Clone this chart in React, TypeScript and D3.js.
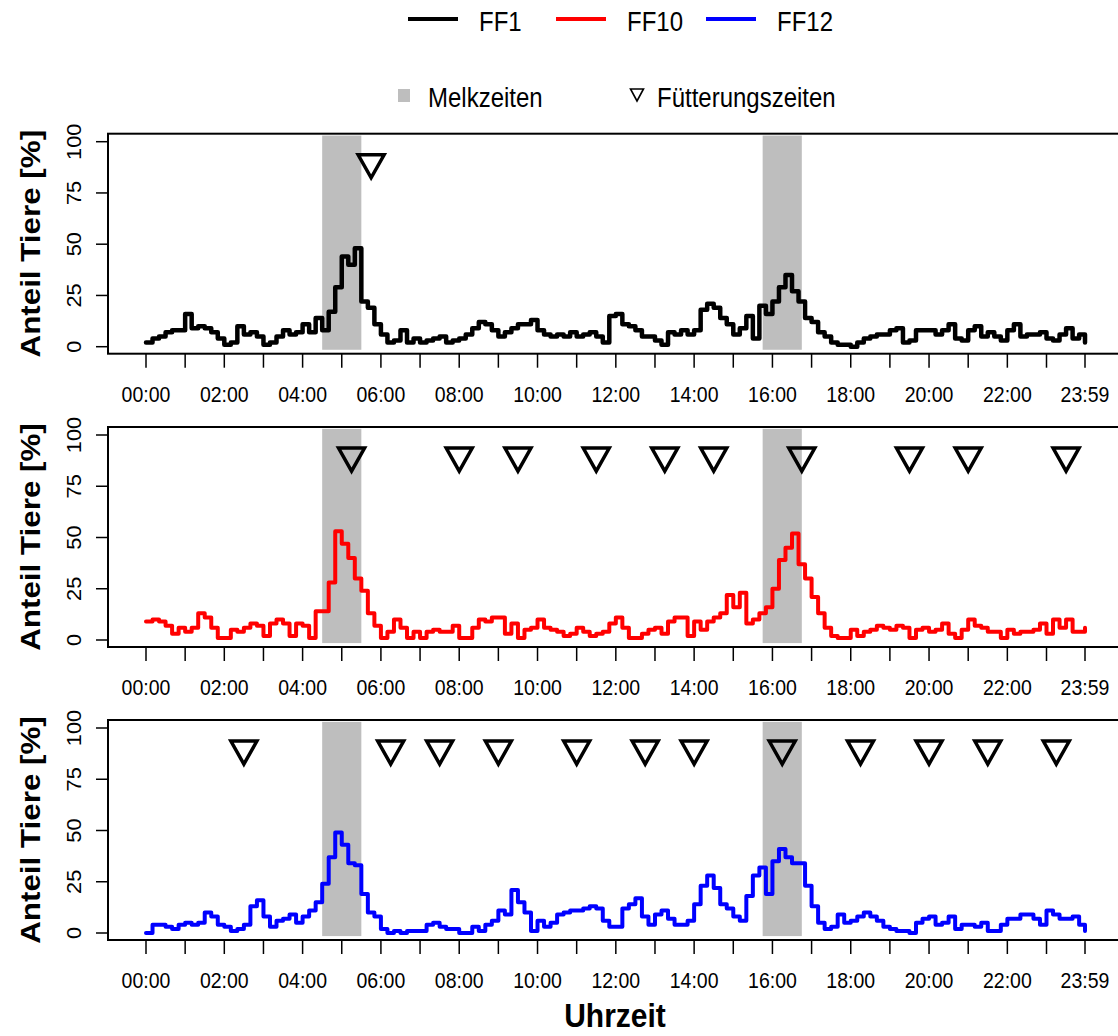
import React from "react";
import * as d3 from "d3";

// ---------- data (10-minute resolution, % of animals) ----------
const ff1 = [
  2, 4, 5, 7, 8, 8, 16, 9, 10, 9, 7, 4,
  1, 2, 10, 6, 7, 5, 1, 2, 5, 8, 6, 7,
  11, 7, 14, 8, 17, 29, 44, 40, 48, 22, 19, 11,
  6, 2, 3, 8, 2, 4, 2, 3, 4, 5, 2, 3,
  4, 6, 9, 12, 11, 8, 5, 7, 9, 11, 11, 13,
  8, 6, 5, 6, 5, 7, 5, 6, 7, 5, 2, 15,
  16, 11, 10, 8, 5, 5, 3, 1, 7, 6, 8, 6,
  8, 18, 21, 19, 14, 11, 6, 9, 15, 4, 20, 16,
  22, 29, 35, 27, 22, 14, 12, 7, 5, 2, 1, 1,
  0, 2, 4, 5, 6, 6, 8, 9, 2, 3, 8, 8,
  8, 6, 8, 11, 4, 3, 8, 10, 5, 7, 5, 3,
  8, 11, 5, 6, 6, 7, 4, 3, 6, 9, 4, 6, 2,
];
const ff10 = [
  9, 10, 9, 7, 3, 6, 4, 6, 13, 11, 6, 1,
  1, 5, 4, 6, 8, 7, 2, 8, 10, 8, 2, 8,
  7, 1, 14, 14, 28, 53, 47, 40, 30, 24, 13, 7,
  1, 4, 10, 6, 1, 4, 1, 4, 5, 4, 4, 7,
  1, 1, 6, 10, 9, 11, 11, 3, 8, 1, 5, 6,
  10, 6, 5, 4, 2, 3, 6, 4, 2, 3, 4, 8,
  11, 6, 1, 1, 3, 5, 6, 3, 9, 11, 11, 2,
  9, 5, 9, 11, 13, 22, 16, 23, 8, 10, 13, 16,
  25, 39, 45, 52, 37, 30, 21, 13, 6, 2, 1, 1,
  5, 2, 4, 5, 7, 6, 5, 7, 6, 1, 5, 6,
  4, 5, 8, 3, 1, 5, 10, 7, 6, 4, 4, 1,
  5, 3, 4, 4, 5, 8, 3, 10, 6, 10, 4, 4, 6,
];
const ff12 = [
  0, 4, 4, 3, 2, 4, 5, 4, 5, 10, 8, 4,
  3, 1, 2, 4, 13, 16, 8, 3, 6, 7, 9, 5,
  8, 11, 15, 24, 37, 49, 43, 34, 33, 19, 10, 8,
  2, 0, 1, 0, 1, 1, 1, 4, 5, 3, 2, 2,
  0, 0, 3, 1, 4, 6, 11, 9, 21, 15, 10, 1,
  6, 3, 5, 9, 10, 11, 11, 12, 13, 12, 6, 3,
  3, 12, 14, 17, 8, 4, 9, 11, 7, 4, 4, 6,
  14, 23, 28, 22, 14, 12, 8, 6, 18, 28, 32, 19,
  35, 41, 37, 34, 34, 23, 13, 5, 2, 3, 9, 5,
  6, 8, 10, 8, 6, 3, 2, 1, 1, 0, 5, 7,
  8, 4, 5, 8, 2, 4, 4, 3, 5, 1, 1, 4,
  7, 7, 9, 9, 7, 4, 11, 9, 7, 7, 8, 4, 1,
];
// minutes of day for each value
const minutes = ff1.map((_, i) => (i < 144 ? i * 10 : 1439));

// milking periods [start, end] in minutes
const milkStart = [270, 945];
const milkEnd = [330, 1005];

// feeding times (minutes) per panel
const feedFF1 = [345];
const feedFF10 = [315, 480, 570, 690, 795, 870, 1005, 1170, 1260, 1410];
const feedFF12 = [150, 375, 450, 540, 660, 765, 840, 975, 1095, 1200, 1290, 1395];

const seriesNames = ["FF1", "FF10", "FF12"];
const seriesColors = ["#000000", "#FF0000", "#0000FF"];
const seriesValues = [ff1, ff10, ff12];
const feedTimes = [feedFF1, feedFF10, feedFF12];

const tickMinutes = [...d3.range(0, 24).map((h) => h * 60), 1439];
const tickLabels = ["00:00", "02:00", "04:00", "06:00", "08:00", "10:00", "12:00", "14:00", "16:00", "18:00", "20:00", "22:00", "23:59"];
const labelMinutes = [...d3.range(0, 24, 2).map((h) => h * 60), 1439];
const yTicks = [0, 25, 50, 75, 100];

// ---------- layout ----------
const W = 1118;
const H = 1036;
const K = 1.12; // vertical text stretch
const FONT = "'Liberation Sans', Arial, Helvetica, sans-serif";
const boxLeft = 108;
const boxRight = 1123;
const panelZero = [346.7, 640, 933];

const x = d3.scaleLinear().domain([0, 1439]).range([146, 1085]);

function Txt(props: {
  x: number; y: number; size: number; bold?: boolean; anchor?: string; rot?: boolean; fill?: string; children: React.ReactNode;
}) {
  const { x: tx, y: ty, size, bold, anchor, rot, fill, children } = props;
  return (
    <g transform={`translate(${tx},${ty}) scale(1,${K})${rot ? " rotate(-90)" : ""}`}>
      <text
        fontFamily={FONT}
        fontSize={size}
        fontWeight={bold ? "bold" : "normal"}
        textAnchor={anchor || "start"}
        fill={fill || "#000"}
      >
        {children}
      </text>
    </g>
  );
}

function tri(cx: number, cy: number, w: number, h: number) {
  return `M${cx - w / 2},${cy - h / 2} L${cx + w / 2},${cy - h / 2} L${cx},${cy + h / 2} Z`;
}

function Panel({ p }: { p: number }) {
  const y0 = panelZero[p];
  const y = d3.scaleLinear().domain([0, 100]).range([y0, y0 - 205]);
  const vals = seriesValues[p];
  const line = d3
    .line<number>()
    .x((_, i) => x(minutes[i]))
    .y((d) => y(d))
    .curve(d3.curveStepAfter);
  const boxTop = y(100) - 8;
  const boxBottom = y0 + 7;
  return (
    <g>
      {milkStart.map((s, i) => (
        <rect
          key={i}
          x={x(s)}
          width={x(milkEnd[i]) - x(s)}
          y={y(103)}
          height={y(-1.5) - y(103)}
          fill="#BEBEBE"
        />
      ))}
      <path d={line(vals) || ""} fill="none" stroke={seriesColors[p]} strokeWidth={p === 0 ? 4.5 : 4} strokeLinejoin="round" strokeLinecap="round" />
      {feedTimes[p].map((m, i) => (
        <path key={i} d={tri(x(m), y(88), 26, 23)} fill="none" stroke="#000" strokeWidth={3.5} strokeLinejoin="miter" />
      ))}
      <rect x={boxLeft} y={boxTop} width={boxRight - boxLeft} height={boxBottom - boxTop} fill="none" stroke="#000" strokeWidth={2} />
      {yTicks.map((t) => (
        <g key={t}>
          <line x1={96} x2={boxLeft} y1={y(t)} y2={y(t)} stroke="#000" strokeWidth={1.5} />
          <Txt x={81} y={y(t)} size={19.5} anchor="middle" rot>
            {t}
          </Txt>
        </g>
      ))}
      {tickMinutes.map((m) => (
        <line key={m} x1={x(m)} x2={x(m)} y1={boxBottom} y2={boxBottom + 14} stroke="#000" strokeWidth={1.5} />
      ))}
      {labelMinutes.map((m, i) => (
        <Txt key={m} x={x(m)} y={y0 + 55} size={19.5} anchor="middle">
          {tickLabels[i]}
        </Txt>
      ))}
      <Txt x={40} y={(boxTop + boxBottom) / 2} size={28} bold anchor="middle" rot>
        Anteil Tiere [%]
      </Txt>
    </g>
  );
}

export default function App() {
  const legendLineX = [408, 556, 706];
  const legendTextX = [479, 627, 777];
  return (
    <svg width={W} height={H} style={{ position: "absolute", left: 0, top: 0, background: "#fff" }}>
      <rect x={0} y={0} width={W} height={H} fill="#fff" />
      {seriesNames.map((n, i) => (
        <g key={n}>
          <line x1={legendLineX[i]} x2={legendLineX[i] + 50} y1={19} y2={19} stroke={seriesColors[i]} strokeWidth={4} />
          <Txt x={legendTextX[i]} y={31} size={24}>
            {n}
          </Txt>
        </g>
      ))}
      <rect x={398} y={89} width={12} height={13} fill="#BEBEBE" />
      <Txt x={428} y={107} size={24}>Melkzeiten</Txt>
      <path d={tri(637, 95, 13, 12)} fill="none" stroke="#000" strokeWidth={1.6} />
      <Txt x={657} y={107} size={24}>Fütterungszeiten</Txt>
      {[0, 1, 2].map((p) => (
        <Panel key={p} p={p} />
      ))}
      <Txt x={615} y={1027} size={30} bold anchor="middle">
        Uhrzeit
      </Txt>
    </svg>
  );
}
